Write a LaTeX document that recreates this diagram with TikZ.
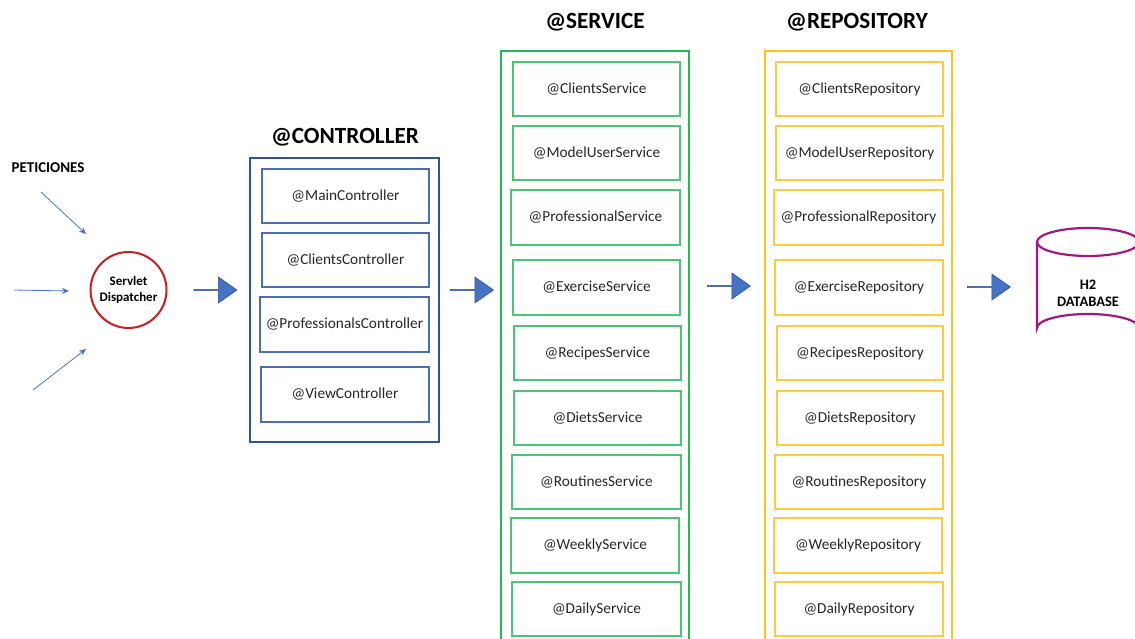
\documentclass[tikz,border=0pt]{standalone}
\usepackage{fontspec}
\setmainfont{Carlito}
\usetikzlibrary{arrows.meta,shapes.arrows}
\definecolor{reqblue}{HTML}{4472C4}
\definecolor{ctrlblue}{HTML}{2F5597}
\definecolor{ctrlinner}{HTML}{4A6DB5}
\definecolor{srvgreen}{HTML}{1FBA55}
\definecolor{srvinner}{HTML}{45C774}
\definecolor{repgold}{HTML}{FFC21A}
\definecolor{repinner}{HTML}{FFCB3D}
\definecolor{dispred}{HTML}{C81E1E}
\definecolor{dbmag}{HTML}{A2187F}
\definecolor{labelgray}{HTML}{262626}
\tikzset{
  layer/.style={draw, line width=2pt, rectangle, inner sep=0pt},
  comp/.style={draw, line width=1.4pt, rectangle, inner sep=0pt,
    minimum height=54, text=labelgray, font=\fontsize{15.3}{18}\selectfont},
  ctrlcomp/.style={comp, draw=ctrlinner},
  srvcomp/.style={comp, draw=srvinner},
  repcomp/.style={comp, draw=repinner},
  layertitle/.style={font=\bfseries\fontsize{23.2}{26}\selectfont, text=black},
  flow/.style={single arrow, draw=ctrlblue, line width=0.6pt, fill=reqblue,
    inner sep=0pt, minimum height=43, minimum width=26,
    single arrow head extend=6, single arrow tip angle=70},
  request/.style={draw=reqblue, line width=0.8pt,
    -{Stealth[length=7pt,width=6pt]}},
}
\begin{document}
\begin{tikzpicture}[x=1pt,y=-1pt]
\useasboundingbox (0,0) rectangle (1135,639);

% incoming requests
\node[font=\bfseries\fontsize{15}{18}\selectfont] (pet) at (48,168) {PETICIONES};
\coordinate (r1s) at (41,192);  \coordinate (r1e) at (86,234);
\coordinate (r2s) at (14,290);  \coordinate (r2e) at (69,291);
\coordinate (r3s) at (33,390);  \coordinate (r3e) at (86,349);
\draw[request] (r1s) -- (r1e);
\draw[request] (r2s) -- (r2e);
\draw[request] (r3s) -- (r3e);

% dispatcher
\node[circle, draw=dispred, line width=2pt, minimum size=76, inner sep=0pt,
  align=center, font=\bfseries\fontsize{13}{16}\selectfont] (disp) at (128.5,290)
  {Servlet\\Dispatcher};

% controller layer
\node[layertitle] (tctrl) at (345,137) {@CONTROLLER};
\node[layer, draw=ctrlblue, minimum width=189, minimum height=284] (ctrl) at (344.5,300) {};
\node[ctrlcomp, minimum width=167] (c1) at (345.5,196) {@MainController};
\node[ctrlcomp, minimum width=167] (c2) at (345.5,260) {@ClientsController};
\node[ctrlcomp, minimum width=169, minimum height=55] (c3) at (344.5,324.5) {@ProfessionalsController};
\node[ctrlcomp, minimum width=168, minimum height=55] (c4) at (345,394.5) {@ViewController};

% service layer
\node[layertitle] (tsrv) at (595,22) {@SERVICE};
\node[layer, draw=srvgreen, minimum width=188, minimum height=600] (srv) at (595,351) {};
\node[srvcomp, minimum width=167] (s1) at (596.5,89) {@ClientsService};
\node[srvcomp, minimum width=167] (s2) at (596.5,153) {@ModelUserService};
\node[srvcomp, minimum width=169, minimum height=55] (s3) at (595.5,217.5) {@ProfessionalService};
\node[srvcomp, minimum width=167, minimum height=55] (s4) at (596.5,287.5) {@ExerciseService};
\node[srvcomp, minimum width=167] (s5) at (597.5,353) {@RecipesService};
\node[srvcomp, minimum width=167] (s6) at (597.5,418) {@DietsService};
\node[srvcomp, minimum width=169] (s7) at (596.5,482) {@RoutinesService};
\node[srvcomp, minimum width=168, minimum height=55] (s8) at (595,545.5) {@WeeklyService};
\node[srvcomp, minimum width=169] (s9) at (596.5,609) {@DailyService};

% repository layer
\node[layertitle] (trep) at (857,22) {@REPOSITORY};
\node[layer, draw=repgold, minimum width=187, minimum height=600] (rep) at (858.5,351) {};
\node[repcomp, minimum width=167] (p1) at (859.5,89) {@ClientsRepository};
\node[repcomp, minimum width=167] (p2) at (859.5,153) {@ModelUserRepository};
\node[repcomp, minimum width=169, minimum height=55] (p3) at (858.5,217.5) {@ProfessionalRepository};
\node[repcomp, minimum width=168, minimum height=55] (p4) at (859,287.5) {@ExerciseRepository};
\node[repcomp, minimum width=166] (p5) at (860,353) {@RecipesRepository};
\node[repcomp, minimum width=166] (p6) at (860,418) {@DietsRepository};
\node[repcomp, minimum width=168] (p7) at (859,482) {@RoutinesRepository};
\node[repcomp, minimum width=168, minimum height=55] (p8) at (858,545.5) {@WeeklyRepository};
\node[repcomp, minimum width=168] (p9) at (859,609) {@DailyRepository};

% database cylinder
\draw[dbmag, line width=2.2pt]
  (1037,242) -- (1037,328) arc[start angle=180, end angle=360, x radius=51, y radius=14]
  -- (1139,242);
\draw[dbmag, line width=2.2pt] (1088,242) ellipse[x radius=51, y radius=14];
\node[align=center, font=\bfseries\fontsize{14.5}{17}\selectfont] (db) at (1088,293)
  {H2\\DATABASE};

% flow between layers
\node[flow] (f1) at (215,290) {};
\node[flow] (f2) at (471.5,290) {};
\node[flow] (f3) at (728.5,286) {};
\node[flow] (f4) at (988.5,287) {};
\end{tikzpicture}
\end{document}
